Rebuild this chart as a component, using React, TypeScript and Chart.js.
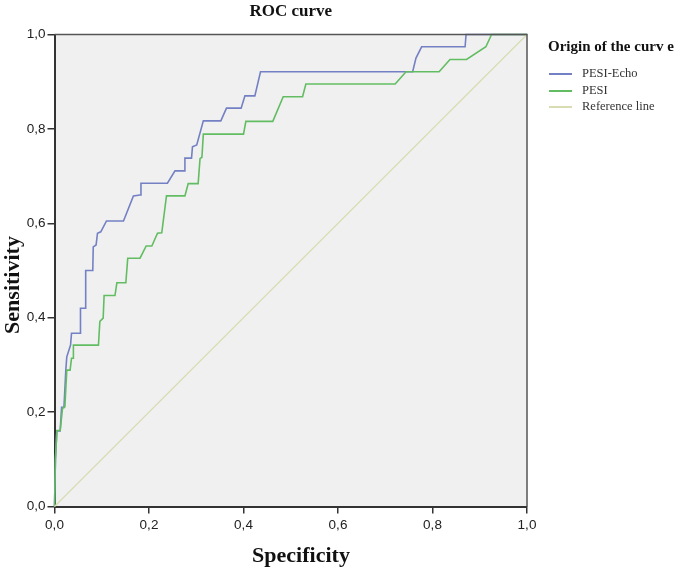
import { useEffect, useRef } from "react";
import { Chart, registerables } from "chart.js";

Chart.register(...registerables);

const tickValues = [0, 0.2, 0.4, 0.6, 0.8, 1];
const chartTitle = "ROC curve";
const xTitle = "Specificity";
const yTitle = "Sensitivity";
const legendTitle = "Origin of the curv e";
const seriesNames = ["PESI-Echo", "PESI", "Reference line"];

const echoSpec = [0, 0.002, 0.005, 0.012, 0.015, 0.02, 0.024, 0.026, 0.034, 0.036, 0.054, 0.055, 0.065, 0.066, 0.081, 0.082, 0.088, 0.091, 0.098, 0.11, 0.146, 0.167, 0.181, 0.183, 0.239, 0.255, 0.275, 0.276, 0.29, 0.292, 0.301, 0.315, 0.352, 0.364, 0.395, 0.403, 0.424, 0.436, 0.758, 0.765, 0.777, 0.869, 0.871, 1];
const echoSens = [0, 0.1, 0.16, 0.16, 0.21, 0.21, 0.29, 0.317, 0.342, 0.367, 0.367, 0.42, 0.42, 0.5, 0.5, 0.55, 0.554, 0.579, 0.582, 0.605, 0.605, 0.658, 0.66, 0.685, 0.685, 0.711, 0.711, 0.738, 0.738, 0.762, 0.766, 0.817, 0.817, 0.844, 0.844, 0.87, 0.87, 0.921, 0.921, 0.95, 0.974, 0.974, 1, 1];

const pesiSpec = [0, 0.002, 0.005, 0.012, 0.017, 0.022, 0.026, 0.033, 0.036, 0.04, 0.04, 0.093, 0.096, 0.103, 0.105, 0.128, 0.132, 0.151, 0.155, 0.181, 0.194, 0.206, 0.218, 0.227, 0.237, 0.276, 0.283, 0.304, 0.308, 0.312, 0.315, 0.4, 0.405, 0.462, 0.484, 0.525, 0.532, 0.721, 0.744, 0.814, 0.837, 0.872, 0.913, 0.925, 1];
const pesiSens = [0, 0.1, 0.161, 0.161, 0.208, 0.211, 0.289, 0.289, 0.314, 0.314, 0.342, 0.342, 0.392, 0.399, 0.447, 0.447, 0.474, 0.474, 0.526, 0.526, 0.552, 0.552, 0.579, 0.58, 0.658, 0.658, 0.684, 0.684, 0.737, 0.74, 0.789, 0.789, 0.816, 0.816, 0.868, 0.868, 0.895, 0.895, 0.921, 0.921, 0.947, 0.947, 0.974, 1, 1];

const refSpec = [0, 1];
const refSens = [0, 1];

const colors = ["#7480c4", "#62bd62", "#d9dcb2"];

const toPoints = (xs: number[], ys: number[]) => xs.map((x, i) => ({ x, y: ys[i] }));
const fmt = (v: number) => v.toFixed(1).replace(".", ",");

export default function App() {
  const ref = useRef<HTMLCanvasElement>(null);

  useEffect(() => {
    document.body.style.margin = "0";
    const decor = {
      id: "decor",
      beforeDraw(chart: any) {
        const { ctx, chartArea: a } = chart;
        ctx.save();
        ctx.fillStyle = "#f0f0f0";
        ctx.fillRect(a.left, a.top, a.right - a.left, a.bottom - a.top);
        ctx.restore();
      },
      afterDraw(chart: any) {
        const { ctx, chartArea: a } = chart;
        ctx.save();
        ctx.strokeStyle = "#555";
        ctx.lineWidth = 1.5;
        ctx.beginPath();
        ctx.moveTo(a.left, a.top);
        ctx.lineTo(a.right, a.top);
        ctx.lineTo(a.right, a.bottom);
        ctx.stroke();
        ctx.fillStyle = "#111";
        ctx.textAlign = "center";
        ctx.textBaseline = "middle";
        ctx.font = "bold 17px 'Liberation Serif'";
        ctx.fillText(chartTitle, (a.left + a.right) / 2, 12);
        ctx.font = "bold 22px 'Liberation Serif'";
        ctx.fillText(xTitle, 301, 556);
        ctx.save();
        ctx.translate(13, 285);
        ctx.rotate(-Math.PI / 2);
        ctx.fillText(yTitle, 0, 0);
        ctx.restore();
        // legend
        ctx.textAlign = "left";
        ctx.font = "bold 15px 'Liberation Serif'";
        ctx.fillStyle = "#111";
        ctx.fillText(legendTitle, 548, 47);
        ctx.font = "12.5px 'Liberation Serif'";
        const ys = [74, 91, 107];
        seriesNames.forEach((n, i) => {
          ctx.strokeStyle = colors[i];
          ctx.lineWidth = 2;
          ctx.beginPath();
          ctx.moveTo(549, ys[i]);
          ctx.lineTo(572, ys[i]);
          ctx.stroke();
          ctx.fillStyle = "#333";
          ctx.fillText(n, 582, ys[i]);
        });
        ctx.restore();
      },
    };

    const axisCommon = (afterFit: (s: any) => void, pad: number) => ({
      type: "linear" as const,
      min: 0,
      max: 1,
      afterFit,
      afterBuildTicks: (s: any) => {
        s.ticks = tickValues.map((v) => ({ value: v }));
      },
      ticks: {
        callback: (v: any) => fmt(Number(v)),
        color: "#222",
        font: { family: "'Liberation Sans'", size: 13.5 },
        padding: pad,
        maxRotation: 0,
        autoSkip: false,
      },
      grid: { drawOnChartArea: false, drawTicks: true, tickLength: 7, color: "#333", lineWidth: 1.5 },
      border: { display: true, color: "#333", width: 2 },
    });

    const chart = new Chart(ref.current!, {
      type: "line",
      data: {
        datasets: [
          { label: seriesNames[0], data: toPoints(echoSpec, echoSens), borderColor: colors[0], borderWidth: 1.6, pointRadius: 0, tension: 0, clip: 3 } as any,
          { label: seriesNames[1], data: toPoints(pesiSpec, pesiSens), borderColor: colors[1], borderWidth: 1.6, pointRadius: 0, tension: 0, clip: 3 } as any,
          { label: seriesNames[2], data: toPoints(refSpec, refSens), borderColor: colors[2], borderWidth: 1.2, pointRadius: 0, tension: 0, clip: 3 } as any,
        ].reverse(),
      },
      options: {
        animation: false,
        responsive: false,
        devicePixelRatio: 1,
        layout: { padding: { top: 34.5, right: 157, left: 0, bottom: 0 } },
        plugins: { legend: { display: false }, tooltip: { enabled: false }, title: { display: false } },
        scales: {
          x: axisCommon((s: any) => { s.height = 65.5; }, 4),
          y: axisCommon((s: any) => { s.width = 54.5; }, 2),
        },
      } as any,
      plugins: [decor],
    });
    return () => chart.destroy();
  }, []);

  return <canvas ref={ref} width={684} height={572} style={{ display: "block" }} />;
}
